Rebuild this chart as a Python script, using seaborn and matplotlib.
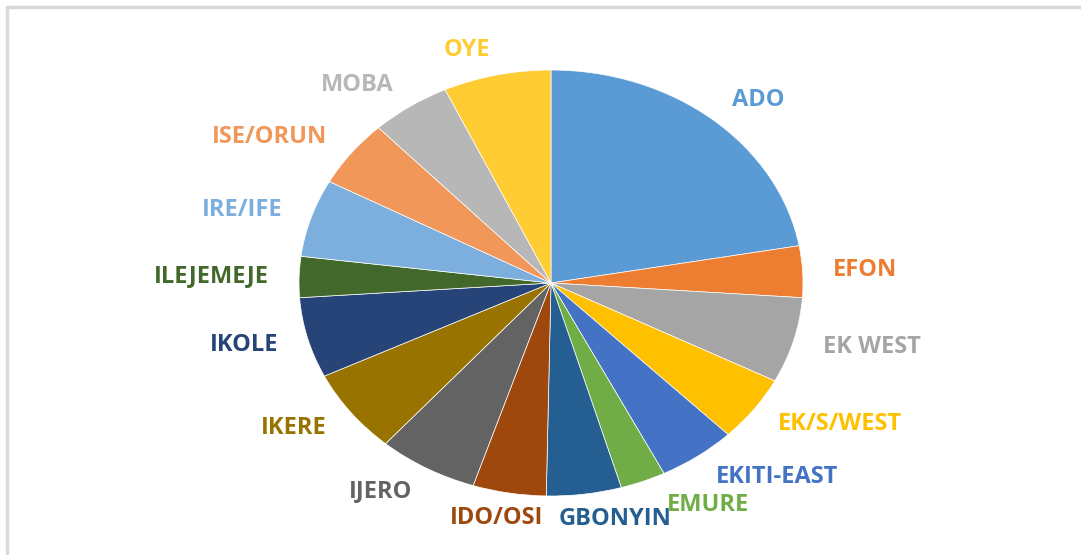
import numpy as np
import matplotlib
matplotlib.use("Agg")
import matplotlib.pyplot as plt
from matplotlib.lines import Line2D
import seaborn as sns

# share of each local government area (%), clockwise from 12 o'clock
lgas = ["ADO", "EFON", "EK WEST", "EK/S/WEST", "EKITI-EAST", "EMURE", "GBONYIN",
        "IDO/OSI", "IJERO", "IKERE", "IKOLE", "ILEJEMEJE", "IRE/IFE", "ISE/ORUN",
        "MOBA", "OYE"]
shares = [22.2, 3.9, 6.5, 5.0, 5.0, 2.9, 4.8, 4.7, 6.4, 6.4, 6.1, 3.1, 5.9,
          5.1, 5.1, 6.9]
colors = ["#5B9BD5", "#ED7D31", "#A5A5A5", "#FFC000", "#4472C4", "#70AD47",
          "#255E91", "#9E480E", "#636363", "#997300", "#264478", "#43682B",
          "#7CAFDD", "#F1975A", "#B7B7B7", "#FFCD33"]

sns.set_style("white")
plt.rcParams["font.family"] = ["Open Sans", "DejaVu Sans"]

W, H = 1081, 555
fig = plt.figure(figsize=(W / 100, H / 100), dpi=100)

# pie sits in an axes sized to the (slightly squashed) ellipse
cx, cy, rx, ry = 551, 283, 252, 213
ax = fig.add_axes([(cx - rx) / W, (H - cy - ry) / H, 2 * rx / W, 2 * ry / H])

wedges, texts = ax.pie(shares, labels=lgas, colors=colors, startangle=90,
                       counterclock=False, labeldistance=1.12,
                       wedgeprops=dict(edgecolor="white", linewidth=0.5))
for t, c in zip(texts, colors):
    t.set_color(c)
    t.set_fontweight("bold")
    t.set_fontsize(17)
    x, y = t.get_position()
    # labels right under the pie hug the vertical axis
    if abs(x) < 0.25 and y < 0:
        t.set_position((np.sign(x) * 0.03, y))
    elif 0.25 <= x < 0.5 and y < -0.9:
        t.set_position((x + 0.05, y))

ax.set_aspect("auto")
ax.set_xlim(-1, 1)
ax.set_ylim(-1, 1)
ax.axis("off")

# light chart-area frame (top and left edges visible)
fig.add_artist(Line2D([7 / W, 1], [1 - 7 / H, 1 - 7 / H], color="#D9D9D9", lw=2.5,
                      transform=fig.transFigure))
fig.add_artist(Line2D([7 / W, 7 / W], [0, 1 - 7 / H], color="#D9D9D9", lw=2.5,
                      transform=fig.transFigure))

fig.savefig("out.png", dpi=100, facecolor="white")
